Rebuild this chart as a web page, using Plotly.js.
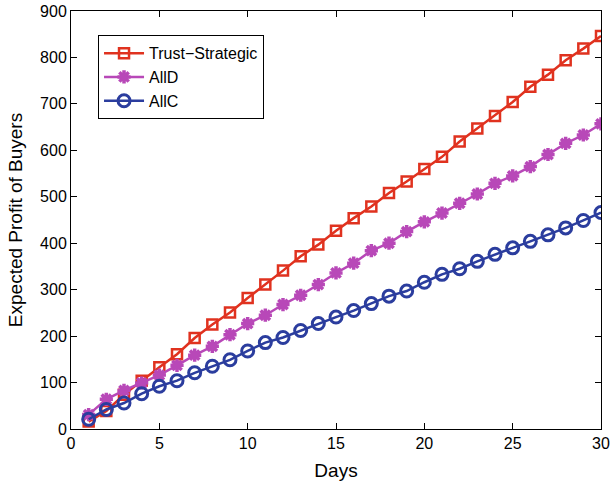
<!DOCTYPE html>
<html>
<head>
<meta charset="utf-8">
<script src="https://cdn.plot.ly/plotly-3.0.1.min.js"></script>
<style>html,body{margin:0;padding:0;background:#fff;}#chart{width:610px;height:484px;}</style>
</head>
<body>
<div id="chart"></div>
<script>
const days = [1,2,3,4,5,6,7,8,9,10,11,12,13,14,15,16,17,18,19,20,21,22,23,24,25,26,27,28,29,30];
const trustStrategic = [16,39,74,104,133,161,196,225,251,282,311,341,372,397,427,454,479,508,533,560,586,619,647,674,704,737,763,794,819,846];
const allD = [31,64,83,99,116,137,159,178,203,227,245,268,288,311,336,357,384,400,425,446,465,486,506,529,545,565,591,615,633,657];
const allC = [21,42,56,76,92,104,121,135,149,168,186,197,212,227,241,255,270,286,297,316,333,345,361,376,390,404,418,433,449,466];
const seriesNames = ["Trust\u2212Strategic","AllD","AllC"];

const red = "#e0321f", purple = "#b848b8", blue = "#2b3d9e";
const traces = [
  {x: days, y: trustStrategic, name: seriesNames[0], mode: "lines+markers",
   line: {color: red, width: 2.5},
   marker: {symbol: "square-open", size: 10, color: red, line: {color: red, width: 2.5}}},
  {x: days, y: allD, name: seriesNames[1], mode: "lines+markers",
   line: {color: purple, width: 2.5},
   marker: {symbol: "asterisk-open", size: 11, color: purple, line: {color: purple, width: 3.5}}},
  {x: days, y: allC, name: seriesNames[2], mode: "lines+markers",
   line: {color: blue, width: 2.5},
   marker: {symbol: "circle-open", size: 12, color: blue, line: {color: blue, width: 3}}}
];
const axisCommon = {
  showgrid: false, zeroline: false, showline: true, linecolor: "#000", linewidth: 1,
  mirror: "ticks", ticks: "inside", ticklen: 6, tickcolor: "#000",
  tickfont: {family: "Liberation Sans, Arial, sans-serif", size: 16, color: "#000"}
};
const layout = {
  width: 610, height: 484,
  margin: {l: 71, r: 9, t: 11, b: 55},
  paper_bgcolor: "#fff", plot_bgcolor: "#fff",
  font: {family: "Liberation Sans, Arial, sans-serif", color: "#000"},
  xaxis: Object.assign({}, axisCommon, {range: [0, 30], tickvals: [0,5,10,15,20,25,30],
    title: {text: "Days", font: {size: 19, color: "#000"}, standoff: 12}}),
  yaxis: Object.assign({}, axisCommon, {range: [0, 900], tickvals: [0,100,200,300,400,500,600,700,800,900],
    title: {text: "Expected Profit of Buyers", font: {size: 19, color: "#000"}, standoff: 12}}),
  showlegend: true,
  legend: {x: 0.051, y: 0.942, xanchor: "left", yanchor: "top", bgcolor: "#fff",
    bordercolor: "#000", borderwidth: 1, font: {size: 16, color: "#000"},
    tracegroupgap: 0, itemwidth: 40}
};
Plotly.newPlot("chart", traces, layout, {displayModeBar: false, staticPlot: true});
</script>
</body>
</html>
